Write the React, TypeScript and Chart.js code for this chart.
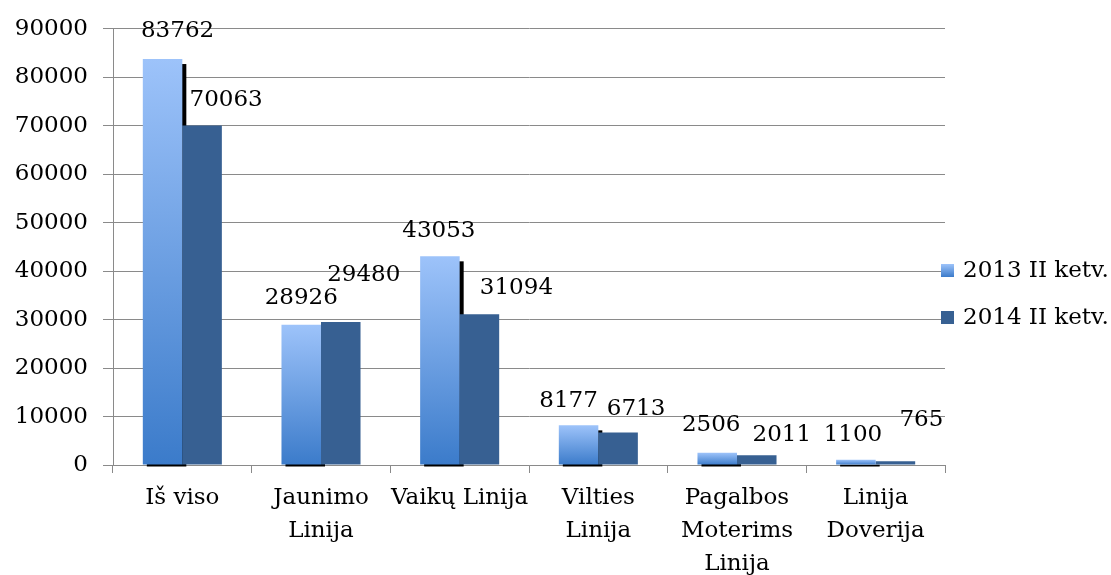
import { useEffect, useRef } from "react";
import { Chart, registerables } from "chart.js";

Chart.register(...registerables);

const categories: string[][] = [
  ["Iš viso"],
  ["Jaunimo", "Linija"],
  ["Vaikų Linija"],
  ["Vilties", "Linija"],
  ["Pagalbos", "Moterims", "Linija"],
  ["Linija", "Doverija"],
];
const seriesNames = ["2013 II ketv.", "2014 II ketv."];
const values2013 = [83762, 28926, 43053, 8177, 2506, 1100];
const values2014 = [70063, 29480, 31094, 6713, 2011, 765];
const yMin = 0;
const yMax = 90000;
const yStep = 10000;

// label nudges (pixels) relative to bar top-center, mimicking the hand-placed labels
const labelNudge2013: [number, number][] = [[15, -28], [0, -27], [-1, -25], [-10, -24], [-6, -28], [-3, -25]];
const labelNudge2014: [number, number][] = [[24, -25], [23, -47], [37, -26], [18, -23], [25, -20], [26, -41]];

const FONT = "'DejaVu Serif', serif";
const GRID = "#8a8a8a";
const TOP_BLUE = "#9dc3fa";
const BOTTOM_BLUE = "#3b7bca";
const DARK_BLUE = "#376092";

function gradientFor(ctx: CanvasRenderingContext2D, top: number, bottom: number) {
  const g = ctx.createLinearGradient(0, top, 0, bottom);
  g.addColorStop(0, TOP_BLUE);
  g.addColorStop(1, BOTTOM_BLUE);
  return g;
}

const decorPlugin = {
  id: "decor",
  beforeDatasetsDraw(chart: any) {
    const ctx = chart.ctx as CanvasRenderingContext2D;
    const meta = chart.getDatasetMeta(0);
    ctx.save();
    ctx.fillStyle = "#000";
    meta.data.forEach((el: any) => {
      const left = el.x - el.width / 2 + 4;
      const top = el.y + 5;
      const bottom = el.base + 2;
      if (bottom > top) ctx.fillRect(left, top, el.width, bottom - top);
    });
    ctx.restore();
  },
  afterDatasetsDraw(chart: any) {
    const ctx = chart.ctx as CanvasRenderingContext2D;
    ctx.save();
    ctx.font = `23px ${FONT}`;
    ctx.fillStyle = "#000";
    ctx.textAlign = "center";
    ctx.textBaseline = "middle";
    [labelNudge2013, labelNudge2014].forEach((nudges, di) => {
      const meta = chart.getDatasetMeta(di);
      const data = chart.data.datasets[di].data as number[];
      meta.data.forEach((el: any, i: number) => {
        ctx.fillText(String(data[i]), el.x + nudges[i][0], el.y + nudges[i][1]);
      });
    });
    // legend
    const area = chart.chartArea;
    const cy = area.top + (area.bottom - area.top) * 0.608;
    const gap = 47;
    ctx.textAlign = "left";
    seriesNames.forEach((name, i) => {
      const y = cy - gap / 2 + i * gap;
      const mx = area.right - 4;
      ctx.fillStyle = i === 0 ? gradientFor(ctx, y - 6.5, y + 6.5) : DARK_BLUE;
      ctx.fillRect(mx, y - 6.5, 13, 13);
      ctx.fillStyle = "#000";
      ctx.fillText(name, mx + 22, y + 1);
    });
    ctx.restore();
  },
};

export default function App() {
  const ref = useRef<HTMLCanvasElement | null>(null);
  useEffect(() => {
    if (!ref.current) return;
    const chart = new Chart(ref.current, {
      type: "bar",
      data: {
        labels: categories,
        datasets: [
          {
            label: seriesNames[0],
            data: values2013,
            backgroundColor: (c: any) => {
              const ch = c.chart;
              const ys = ch.scales?.y;
              if (!ys || !ch.chartArea || c.raw === undefined) return BOTTOM_BLUE;
              const top = ys.getPixelForValue(c.raw);
              const bottom = ys.getPixelForValue(0);
              if (!isFinite(top) || !isFinite(bottom) || bottom - top < 1) return BOTTOM_BLUE;
              return gradientFor(ch.ctx, top, bottom);
            },
            barPercentage: 1,
            categoryPercentage: 0.57,
            borderWidth: 0,
          },
          {
            label: seriesNames[1],
            data: values2014,
            backgroundColor: DARK_BLUE,
            barPercentage: 1,
            categoryPercentage: 0.57,
            borderWidth: 0,
          },
        ],
      },
      options: {
        animation: false,
        responsive: true,
        maintainAspectRatio: false,
        layout: { padding: { top: 24, right: 166, left: 0, bottom: 0 } },
        plugins: { legend: { display: false }, tooltip: { enabled: false } },
        scales: {
          x: {
            grid: { display: true, drawOnChartArea: false, drawTicks: true, tickLength: 8, color: GRID, offset: true },
            border: { display: true, color: GRID },
            ticks: {
              color: "#000",
              padding: 9,
              maxRotation: 0,
              autoSkip: false,
              font: { family: FONT, size: 23, lineHeight: 1.43 },
            },
            afterFit: (s: any) => { s.height = 110; },
          },
          y: {
            min: yMin,
            max: yMax,
            grid: { color: GRID, tickLength: 10, drawTicks: true },
            border: { display: true, color: GRID },
            ticks: {
              stepSize: yStep,
              color: "#000",
              padding: 15,
              font: { family: FONT, size: 23 },
              callback: (v: any) => String(v),
            },
            afterFit: (s: any) => { s.width = 113; },
          },
        },
      },
      plugins: [decorPlugin],
    });
    return () => chart.destroy();
  }, []);
  return (
    <div style={{ position: "fixed", left: 0, top: 0, width: 1111, height: 575, background: "#fff" }}>
      <canvas ref={ref} />
    </div>
  );
}
